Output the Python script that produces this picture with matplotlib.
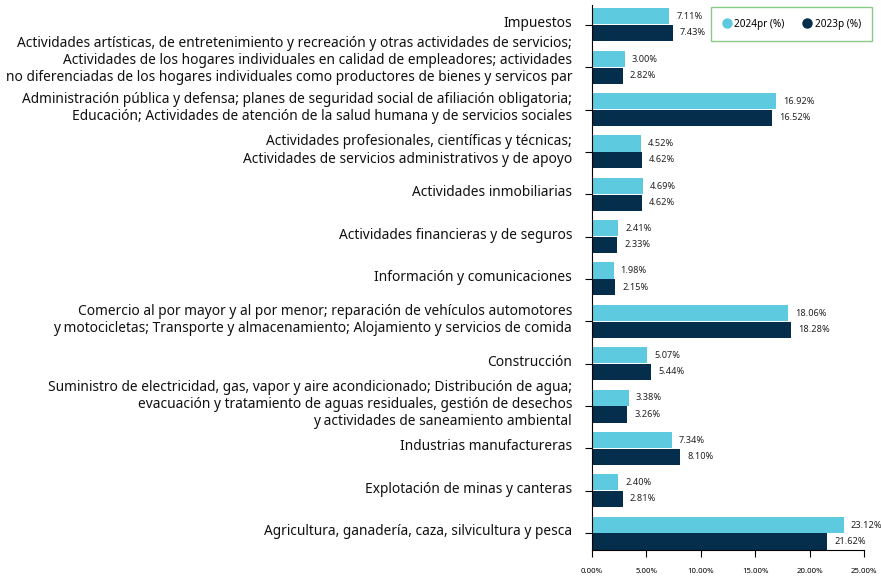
import numpy as np
import matplotlib.pyplot as plt

# data
categories = [
    "Impuestos",
    "Actividades artísticas, de entretenimiento y recreación y otras actividades de servicios;\n"
    "Actividades de los hogares individuales en calidad de empleadores; actividades\n"
    "no diferenciadas de los hogares individuales como productores de bienes y servicos par",
    "Administración pública y defensa; planes de seguridad social de afiliación obligatoria;\n"
    "Educación; Actividades de atención de la salud humana y de servicios sociales",
    "Actividades profesionales, científicas y técnicas;\n"
    "Actividades de servicios administrativos y de apoyo",
    "Actividades inmobiliarias",
    "Actividades financieras y de seguros",
    "Información y comunicaciones",
    "Comercio al por mayor y al por menor; reparación de vehículos automotores\n"
    "y motocicletas; Transporte y almacenamiento; Alojamiento y servicios de comida",
    "Construcción",
    "Suministro de electricidad, gas, vapor y aire acondicionado; Distribución de agua;\n"
    "evacuación y tratamiento de aguas residuales, gestión de desechos\n"
    "y actividades de saneamiento ambiental",
    "Industrias manufactureras",
    "Explotación de minas y canteras",
    "Agricultura, ganadería, caza, silvicultura y pesca",
]
vals_2024 = [7.11, 3.00, 16.92, 4.52, 4.69, 2.41, 1.98, 18.06, 5.07, 3.38, 7.34, 2.40, 23.12]
vals_2023 = [7.43, 2.82, 16.52, 4.62, 4.62, 2.33, 2.15, 18.28, 5.44, 3.26, 8.10, 2.81, 21.62]
xticks = [0, 5, 10, 15, 20, 25]

light = '#5ecadf'
dark = '#042e4c'

plt.rcParams['font.family'] = ['Noto Sans', 'DejaVu Sans']

fig = plt.figure(figsize=(8.81, 5.8), dpi=100)
ax = fig.add_axes([0.672, 0.0517, 0.3087, 0.9397])

y = np.arange(len(categories))
h = 0.38
ax.barh(y - h/2 - 0.01, vals_2024, h, color=light, label='2024pr (%)')
ax.barh(y + h/2 + 0.01, vals_2023, h, color=dark, label='2023p (%)')

for yi, v in zip(y, vals_2024):
    ax.annotate(f"{v:.2f}%", (v, yi - h/2), xytext=(5, 0), textcoords='offset points',
                va='center', fontsize=6.6, color='#222222', fontweight='semibold')
for yi, v in zip(y, vals_2023):
    ax.annotate(f"{v:.2f}%", (v, yi + h/2), xytext=(5, 0), textcoords='offset points',
                va='center', fontsize=6.6, color='#222222', fontweight='semibold')

# category labels sit a little above their ticks
ax.set_yticks(y)
ax.set_yticklabels([])
for i, (yi, lab) in enumerate(zip(y, categories)):
    dy = 5 if i == 1 else 1
    ax.annotate(lab, (0, yi), xycoords=ax.get_yaxis_transform(), xytext=(-14.4, dy),
                textcoords='offset points', ha='right', va='center', fontsize=9.9,
                color='#111111', linespacing=1.2, multialignment='right')

ax.set_ylim(12.4, -0.47)
ax.set_xlim(0, 25)
ax.set_xticks(xticks)
ax.set_xticklabels([f"{t:.2f}%" for t in xticks], fontsize=5.6)
ax.tick_params(axis='y', length=5, width=0.8)
ax.tick_params(axis='x', length=5, pad=8, width=0.8)

for s in ['top', 'right']:
    ax.spines[s].set_visible(False)
ax.spines['left'].set_linewidth(0.8)
ax.spines['bottom'].set_linewidth(0.8)

fig.legend(loc='upper left', bbox_to_anchor=(711/881, 1 - 7/580), ncol=2,
           frameon=True, fancybox=False, edgecolor='#6abf69',
           handlelength=0.8, handleheight=0.8, handletextpad=0.4, columnspacing=1.8,
           borderpad=1.15, borderaxespad=0, prop={'weight': 'semibold', 'size': 7.2},
           handles=[plt.Line2D([], [], marker='o', ls='', color=light, markersize=6.5),
                    plt.Line2D([], [], marker='o', ls='', color=dark, markersize=6.5)],
           labels=['2024pr (%)', '2023p (%)'])

plt.savefig('out.png', dpi=100)
